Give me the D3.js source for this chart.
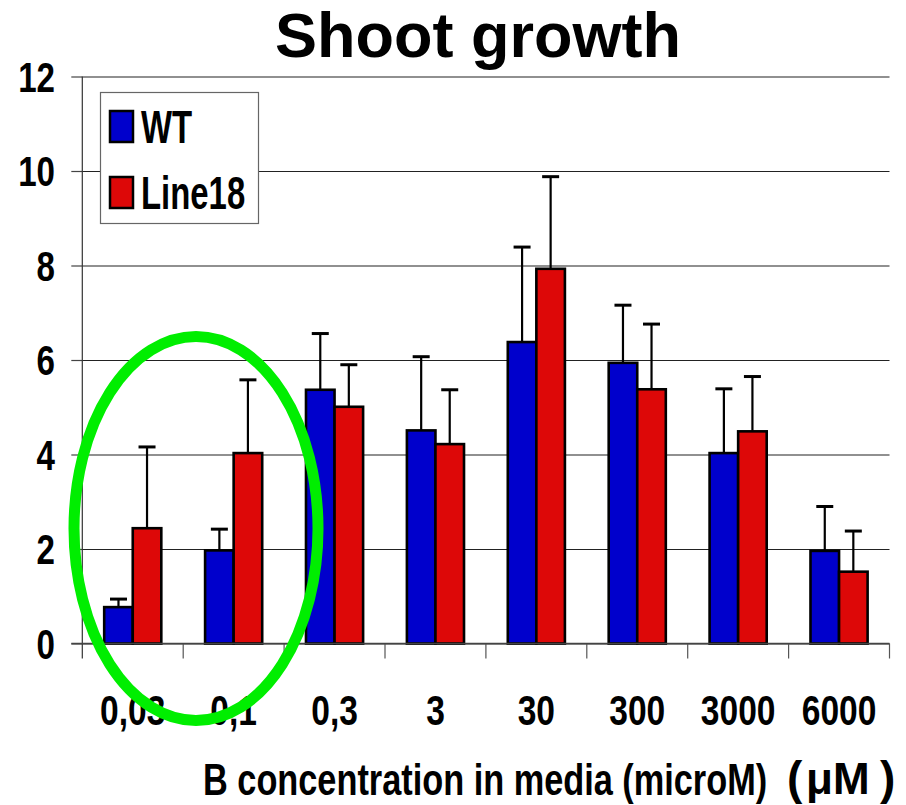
<!DOCTYPE html>
<html>
<head>
<meta charset="utf-8">
<script src="https://cdn.jsdelivr.net/npm/d3@7"></script>
<style>
  html, body { margin: 0; padding: 0; background: #fff; }
  svg { display: block; }
  text { font-family: "Liberation Sans", Arial, sans-serif; font-weight: bold; fill: #000; }
</style>
</head>
<body>
<svg id="chart" width="906" height="805"></svg>
<script>
// Boron concentrations in the growth media (µM)
const concentrations = ["0,03", "0,1", "0,3", "3", "30", "300", "3000", "6000"];
const seriesNames = ["WT", "Line18"];
// Mean shoot growth per concentration
const wtMeans     = [0.77, 1.97, 5.37, 4.51, 6.38, 5.94, 4.03, 1.96];
const line18Means = [2.44, 4.03, 5.01, 4.22, 7.93, 5.38, 4.49, 1.52];
// Standard deviations (drawn upward only)
const wtErrors     = [0.17, 0.45, 1.19, 1.56, 2.01, 1.22, 1.36, 0.94];
const line18Errors = [1.72, 1.55, 0.89, 1.15, 1.95, 1.38, 1.16, 0.86];
const yTicks = [0, 2, 4, 6, 8, 10, 12];
const seriesColors = ["#0000cc", "#dd0808"];

const svg = d3.select("#chart");
const plotLeft = 82.3, plotRight = 889.5, plotTop = 76.5, plotBottom = 643.5;

const y = d3.scaleLinear().domain([0, 12]).range([plotBottom, plotTop]);
const x = d3.scaleBand().domain(concentrations).range([plotLeft, plotRight]).paddingInner(0).paddingOuter(0);
const barW = x.bandwidth() * 0.283;
const xs = d3.scaleBand().domain(seriesNames)
  .range([x.bandwidth() / 2 - barW, x.bandwidth() / 2 + barW]);

const rows = concentrations.map((c, i) => ({
  c,
  vals: [
    { s: "WT", v: wtMeans[i], e: wtErrors[i], color: seriesColors[0] },
    { s: "Line18", v: line18Means[i], e: line18Errors[i], color: seriesColors[1] }
  ]
}));

// horizontal gridlines with left tick marks
const yAxis = d3.axisLeft(y).tickValues(yTicks).tickSize(-(plotRight - plotLeft)).tickFormat("").tickSizeOuter(0);
const gy = svg.append("g").attr("transform", `translate(${plotLeft},0)`).call(yAxis);
gy.select(".domain").remove();
gy.selectAll(".tick line").attr("stroke", "#222").attr("stroke-width", 1.2);
gy.selectAll(".tick").append("line")
  .attr("x1", -11).attr("x2", 0).attr("stroke", "#444").attr("stroke-width", 1.2);

// vertical axis line
svg.append("line").attr("x1", plotLeft).attr("x2", plotLeft).attr("y1", plotTop).attr("y2", plotBottom + 15)
  .attr("stroke", "#333").attr("stroke-width", 1.2);

// category separator ticks under the baseline
const bounds = concentrations.map(c => x(c)).concat([plotRight]);
svg.append("g").selectAll("line").data(bounds.slice(1)).join("line")
  .attr("x1", d => d).attr("x2", d => d).attr("y1", plotBottom).attr("y2", plotBottom + 15)
  .attr("stroke", "#555").attr("stroke-width", 1.2);

// y tick labels (condensed bold)
svg.append("g").selectAll("g").data(yTicks).join("g")
  .attr("transform", d => `translate(55,${y(d)}) scale(0.77,1)`)
  .append("text").attr("text-anchor", "end").attr("dy", "0.36em")
  .style("font-size", "43px").text(d => d);

// bars
const groups = svg.append("g").selectAll("g").data(rows).join("g")
  .attr("transform", d => `translate(${x(d.c)},0)`);
groups.selectAll("rect").data(d => d.vals).join("rect")
  .attr("x", d => xs(d.s)).attr("width", xs.bandwidth())
  .attr("y", d => y(d.v)).attr("height", d => y(0) - y(d.v))
  .attr("fill", d => d.color).attr("stroke", "#000").attr("stroke-width", 2.6);

// upward error bars
const eb = groups.selectAll("g.err").data(d => d.vals).join("g").attr("class", "err");
eb.append("line")
  .attr("x1", d => xs(d.s) + xs.bandwidth() / 2).attr("x2", d => xs(d.s) + xs.bandwidth() / 2)
  .attr("y1", d => y(d.v)).attr("y2", d => y(d.v + d.e))
  .attr("stroke", "#000").attr("stroke-width", 2.2);
eb.append("line")
  .attr("x1", d => xs(d.s) + xs.bandwidth() / 2 - 8.5).attr("x2", d => xs(d.s) + xs.bandwidth() / 2 + 8.5)
  .attr("y1", d => y(d.v + d.e)).attr("y2", d => y(d.v + d.e))
  .attr("stroke", "#000").attr("stroke-width", 3);

// baseline
svg.append("line").attr("x1", plotLeft - 11).attr("x2", plotRight).attr("y1", plotBottom).attr("y2", plotBottom)
  .attr("stroke", "#444").attr("stroke-width", 1.4);

// x category labels
svg.append("g").selectAll("g").data(concentrations).join("g")
  .attr("transform", d => `translate(${x(d) + x.bandwidth() / 2},725) scale(0.78,1)`)
  .append("text").attr("text-anchor", "middle").style("font-size", "43px").text(d => d);

// title
svg.append("text").attr("x", 478).attr("y", 57).attr("text-anchor", "middle")
  .style("font-size", "63px").text("Shoot growth");

// x axis title
svg.append("g").attr("transform", "translate(203,795) scale(0.78,1)")
  .append("text").style("font-size", "44px").text("B concentration in media (microM)");
const unit = svg.append("text").attr("y", 794).style("font-size", "44px");
unit.append("tspan").attr("x", 787).style("font-size", "46px").text("(");
unit.append("tspan").attr("x", 806).text("μM");
unit.append("tspan").attr("x", 880).style("font-size", "46px").text(")");

// legend
const lg = svg.append("g");
lg.append("rect").attr("x", 100.5).attr("y", 92.5).attr("width", 158).attr("height", 131)
  .attr("fill", "#fff").attr("stroke", "#666").attr("stroke-width", 1.2);
const legendRows = seriesNames.map((s, i) => ({ s, color: seriesColors[i], y: [111, 177][i] }));
lg.selectAll("rect.sw").data(legendRows).join("rect").attr("class", "sw")
  .attr("x", 110).attr("y", d => d.y).attr("width", 23).attr("height", 31)
  .attr("fill", d => d.color).attr("stroke", "#000").attr("stroke-width", 2.5);
lg.selectAll("g.lt").data(legendRows).join("g").attr("class", "lt")
  .attr("transform", d => `translate(141,${d.y + 32}) scale(0.7,1)`)
  .append("text").style("font-size", "47px").text(d => d.s);

// highlight ellipse around the lowest concentrations
svg.append("ellipse").attr("cx", 196).attr("cy", 528.5).attr("rx", 122).attr("ry", 192)
  .attr("fill", "none").attr("stroke", "#00ee00").attr("stroke-width", 11);
</script>
</body>
</html>
